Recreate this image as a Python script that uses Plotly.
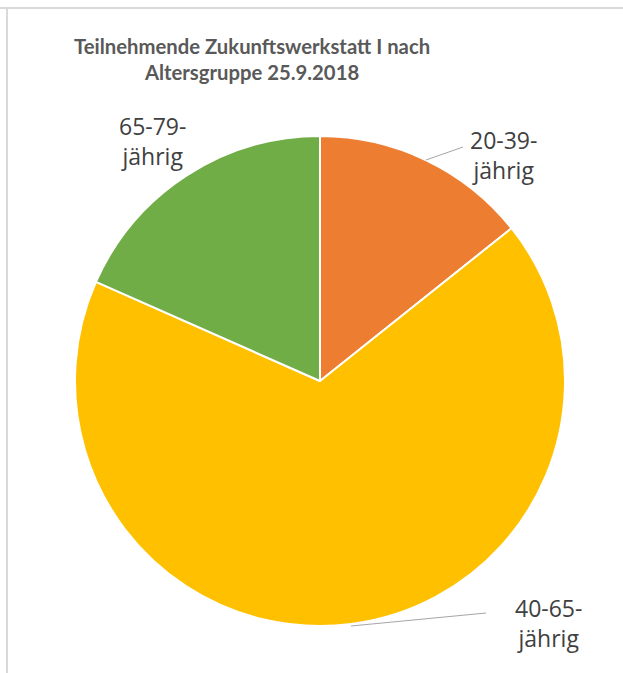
import plotly.graph_objects as go

W, H = 623, 673

categories = ["20-39-jährig", "40-65-jährig", "65-79-jährig"]
label_texts = ["20-39-<br>jährig", "40-65-<br>jährig", "65-79-<br>jährig"]
values = [7, 33, 9]
colors = ["#ED7D31", "#FFC000", "#70AD47"]
title_text = "Teilnehmende Zukunftswerkstatt I nach<br>Altersgruppe 25.9.2018"

cx, cy, r = 320, 381, 245

def px(x):
    return x / W

def py(y):
    return 1 - y / H

fig = go.Figure(go.Pie(
    labels=categories,
    values=values,
    sort=False,
    direction="clockwise",
    rotation=0,
    marker=dict(colors=colors, line=dict(color="white", width=2)),
    textinfo="none",
    hoverinfo="label+value",
    domain=dict(x=[px(cx - r), px(cx + r)], y=[py(cy + r), py(cy - r)]),
    showlegend=False,
))

label_pos = [(503, 155), (548, 623), (152, 141)]
annotations = [
    dict(text=f"<b>{title_text}</b>", x=px(252), y=py(59), xref="paper", yref="paper",
         showarrow=False, xanchor="center", yanchor="middle",
         font=dict(family="Lato", size=20.3, color="#595959"))
]
for t, (lx, ly) in zip(label_texts, label_pos):
    annotations.append(dict(text=t, x=px(lx), y=py(ly), xref="paper", yref="paper",
                            showarrow=False, xanchor="center", yanchor="middle",
                            font=dict(family="Open Sans", size=23, color="#404040")))

shapes = [
    dict(type="line", xref="paper", yref="paper", x0=0, x1=1, y0=py(8), y1=py(8),
         line=dict(color="#d9d9d9", width=2)),
    dict(type="line", xref="paper", yref="paper", x0=px(7), x1=px(7), y0=py(8), y1=0,
         line=dict(color="#d9d9d9", width=2)),
    dict(type="line", xref="paper", yref="paper", x0=px(426), y0=py(160), x1=px(463), y1=py(147),
         line=dict(color="#a6a6a6", width=1)),
    dict(type="line", xref="paper", yref="paper", x0=px(351), y0=py(626), x1=px(486), y1=py(613),
         line=dict(color="#a6a6a6", width=1)),
]

fig.update_layout(
    width=W, height=H,
    margin=dict(l=0, r=0, t=0, b=0),
    paper_bgcolor="white",
    plot_bgcolor="white",
    annotations=annotations,
    shapes=shapes,
)

fig.write_html("out.html")
